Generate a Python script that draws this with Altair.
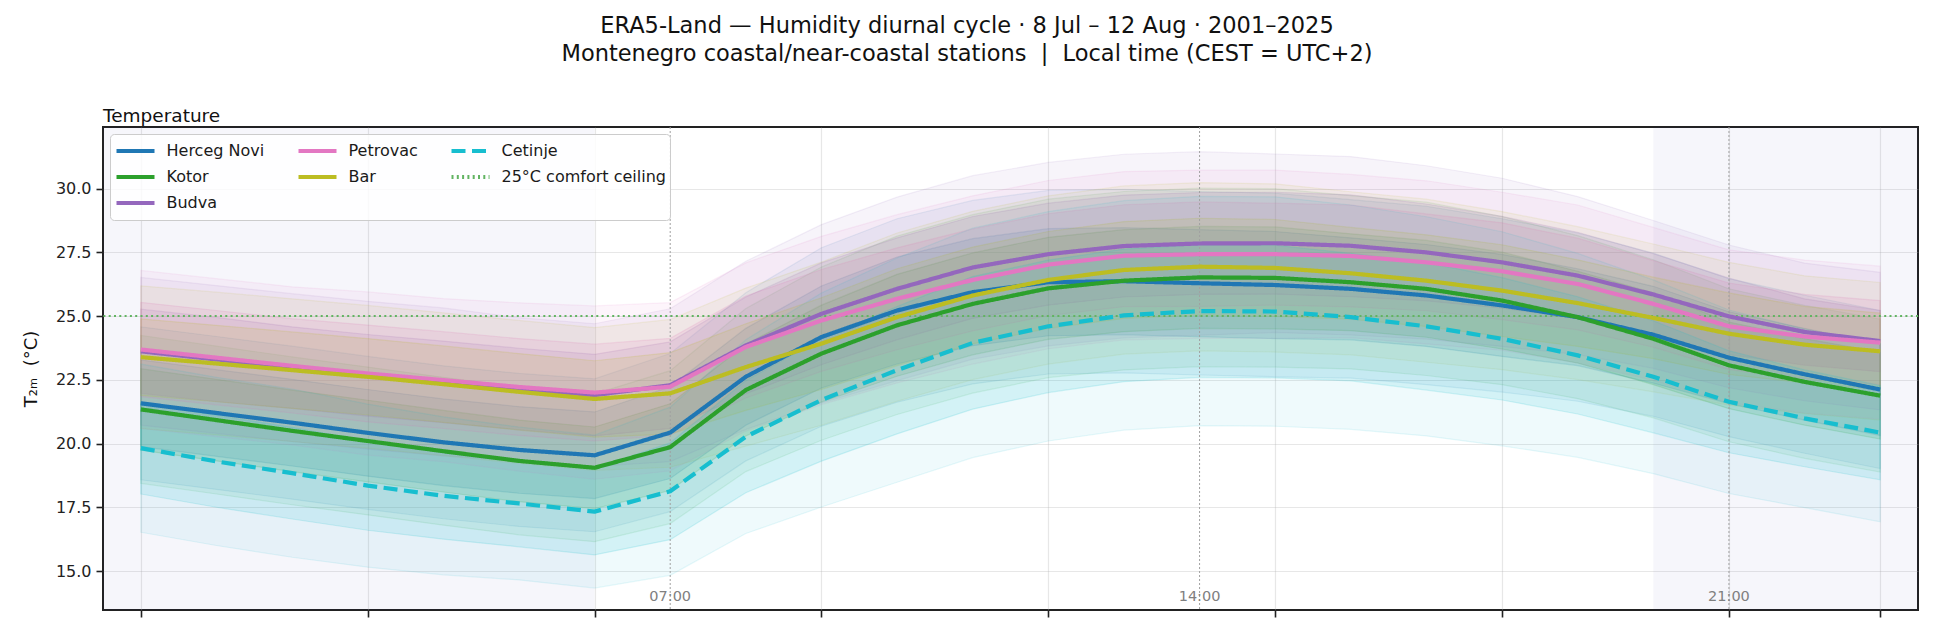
import altair as alt
import pandas as pd

HOURS = list(range(24))
STATIONS = ["Herceg Novi", "Kotor", "Budva", "Petrovac", "Bar", "Cetinje"]
COMFORT = "25°C comfort ceiling"

COLORS = {
    "Herceg Novi": "#1f77b4",
    "Kotor": "#2ca02c",
    "Budva": "#9467bd",
    "Petrovac": "#e377c2",
    "Bar": "#bcbd22",
    "Cetinje": "#17becf",
    COMFORT: "#62b462",
}
DASHES = {
    "Herceg Novi": [1, 0],
    "Kotor": [1, 0],
    "Budva": [1, 0],
    "Petrovac": [1, 0],
    "Bar": [1, 0],
    "Cetinje": [14, 6.5],
    COMFORT: [2, 3.3],
}

# mean 2 m temperature by local hour (°C)
MEAN = {
    "Herceg Novi": [21.58, 21.20, 20.82, 20.42, 20.05, 19.75, 19.54, 20.43, 22.62, 24.18, 25.22, 25.94,
                    26.33, 26.37, 26.29, 26.22, 26.07, 25.81, 25.42, 24.96, 24.27, 23.37, 22.72, 22.12],
    "Kotor":       [21.34, 20.92, 20.50, 20.10, 19.70, 19.32, 19.05, 19.86, 22.10, 23.53, 24.64, 25.48,
                    26.09, 26.39, 26.52, 26.50, 26.33, 26.07, 25.61, 24.96, 24.11, 23.07, 22.42, 21.88],
    "Budva":       [23.62, 23.30, 22.98, 22.68, 22.42, 22.14, 21.90, 22.29, 23.85, 25.09, 26.07, 26.91,
                    27.43, 27.75, 27.85, 27.86, 27.76, 27.50, 27.11, 26.59, 25.85, 24.99, 24.38, 24.02],
    "Petrovac":    [23.69, 23.37, 23.05, 22.75, 22.49, 22.22, 22.00, 22.23, 23.79, 24.83, 25.68, 26.42,
                    27.02, 27.37, 27.43, 27.43, 27.36, 27.11, 26.76, 26.26, 25.48, 24.60, 24.20, 23.96],
    "Bar":         [23.39, 23.14, 22.88, 22.62, 22.33, 22.03, 21.75, 21.97, 23.00, 23.92, 24.96, 25.81,
                    26.42, 26.81, 26.94, 26.89, 26.68, 26.39, 26.00, 25.51, 24.93, 24.31, 23.88, 23.62],
    "Cetinje":     [19.82, 19.30, 18.84, 18.35, 17.95, 17.65, 17.33, 18.13, 20.27, 21.71, 22.88, 23.95,
                    24.60, 25.03, 25.20, 25.18, 24.96, 24.60, 24.11, 23.46, 22.62, 21.64, 20.99, 20.43],
}
# half-width of the outer (p10-p90) band
OUTER = {
    "Herceg Novi": [3.0, 3.0, 3.0, 3.0, 3.0, 3.0, 3.0, 3.1, 3.3, 3.5, 3.6, 3.6, 3.6, 3.6, 3.6, 3.6, 3.5, 3.5, 3.4, 3.3, 3.2, 3.1, 3.1, 3.1],
    "Kotor":       [2.9, 2.9, 2.9, 2.9, 2.9, 2.9, 2.9, 3.0, 3.2, 3.4, 3.5, 3.5, 3.5, 3.5, 3.5, 3.5, 3.4, 3.4, 3.3, 3.2, 3.1, 3.0, 3.0, 3.0],
    "Budva":       [2.9, 2.9, 2.9, 2.9, 2.9, 2.8, 2.8, 3.0, 3.3, 3.5, 3.6, 3.6, 3.6, 3.6, 3.6, 3.5, 3.5, 3.4, 3.3, 3.1, 2.9, 2.8, 2.7, 2.7],
    "Petrovac":    [3.1, 3.1, 3.1, 3.2, 3.2, 3.3, 3.4, 3.3, 3.3, 3.3, 3.3, 3.3, 3.3, 3.3, 3.3, 3.3, 3.2, 3.2, 3.1, 3.1, 3.0, 3.0, 3.0, 3.0],
    "Bar":         [2.8, 2.8, 2.8, 2.8, 2.8, 2.8, 2.8, 2.9, 3.1, 3.2, 3.3, 3.3, 3.3, 3.3, 3.3, 3.3, 3.2, 3.2, 3.1, 3.0, 2.9, 2.8, 2.7, 2.7],
    "Cetinje":     [3.3, 3.3, 3.3, 3.2, 3.1, 3.0, 3.0, 3.3, 3.8, 4.2, 4.4, 4.5, 4.5, 4.5, 4.5, 4.5, 4.4, 4.3, 4.2, 4.0, 3.8, 3.6, 3.5, 3.5],
}
# half-width of the inner (p25-p75) band
INNER = {
    "Herceg Novi": [1.7, 1.7, 1.7, 1.7, 1.7, 1.7, 1.7, 1.8, 1.9, 2.0, 2.1, 2.1, 2.1, 2.1, 2.1, 2.1, 2.0, 2.0, 2.0, 1.9, 1.9, 1.8, 1.8, 1.8],
    "Kotor":       [1.6, 1.6, 1.6, 1.6, 1.6, 1.6, 1.6, 1.7, 1.8, 1.9, 2.0, 2.0, 2.0, 2.0, 2.0, 2.0, 1.9, 1.9, 1.9, 1.8, 1.8, 1.7, 1.7, 1.7],
    "Budva":       [1.65, 1.65, 1.6, 1.6, 1.6, 1.6, 1.6, 1.7, 1.9, 2.0, 2.0, 2.0, 2.0, 2.0, 2.0, 2.0, 2.0, 1.9, 1.8, 1.7, 1.6, 1.5, 1.3, 1.2],
    "Petrovac":    [1.85, 1.85, 1.85, 1.9, 1.9, 1.9, 1.9, 1.9, 2.0, 2.0, 2.0, 2.0, 2.0, 2.0, 2.05, 2.0, 2.0, 1.9, 1.9, 1.8, 1.7, 1.7, 1.65, 1.65],
    "Bar":         [1.5, 1.5, 1.5, 1.5, 1.5, 1.5, 1.5, 1.6, 1.7, 1.8, 1.9, 1.9, 1.9, 1.9, 1.9, 1.9, 1.8, 1.8, 1.8, 1.7, 1.6, 1.6, 1.5, 1.5],
    "Cetinje":     [1.8, 1.8, 1.8, 1.75, 1.7, 1.7, 1.7, 1.9, 2.2, 2.4, 2.5, 2.6, 2.6, 2.6, 2.6, 2.6, 2.5, 2.5, 2.4, 2.3, 2.2, 2.0, 1.9, 1.85],
}

COMFORT_T = [25.0]
NIGHT_START = [-0.5, 20.0]
NIGHT_END = [6.0, 23.5]
MARK_HOURS = [7, 14, 21]
MARK_LABELS = ["07:00", "14:00", "21:00"]
X_TICKS = [0, 3, 6, 9, 12, 15, 18, 21, 23]
Y_TICKS = [15.0, 17.5, 20.0, 22.5, 25.0, 27.5, 30.0]
X_DOMAIN = [-0.5, 23.5]
Y_DOMAIN = [13.47, 32.42]

NB = "\u00a0"
TITLE_LINES = ("ERA5-Land — Humidity diurnal cycle · 8 Jul – 12 Aug · 2001–2025\n"
               "Montenegro coastal/near-coastal stations" + NB + NB + "|" + NB + NB
               + "Local time (CEST = UTC+2)")
PANEL_TITLE = "Temperature"
Y_TITLE = "T₂ₘ" + NB + NB + "(°C)"

# Vega flows multi-column legends vertically; this order yields the columns
# (Herceg Novi, Kotor, Budva) (Petrovac, Bar) (Cetinje, comfort ceiling)
LEGEND_ORDER = ["Herceg Novi", "Kotor", COMFORT, "Petrovac", "Bar", "Budva", "Cetinje"]

W, H = 1815, 483
FONT = "DejaVu Sans"

xs = alt.Scale(domain=X_DOMAIN, nice=False, zero=False)
ys = alt.Scale(domain=Y_DOMAIN, nice=False, zero=False)
x_axis = alt.Axis(values=X_TICKS, labels=False, title=None, tickSize=7, tickWidth=1.6,
                  tickColor="#222222", domain=False, grid=True)
y_axis = alt.Axis(values=Y_TICKS, format=".1f", title=Y_TITLE, tickSize=7, tickWidth=1.6,
                  tickColor="#222222", domain=False, grid=True, labelFontSize=16,
                  labelColor="#222222", labelPadding=5, titleFontSize=18, titleFontWeight="normal",
                  titleColor="#111111", titleX=-72, titleY=H / 2, titleAngle=270,
                  titleAlign="center", titleBaseline="middle")


def X(field):
    return alt.X(field, type="quantitative", scale=xs, axis=x_axis)


def Y(field):
    return alt.Y(field, type="quantitative", scale=ys, axis=y_axis)


color_scale = alt.Scale(domain=LEGEND_ORDER, range=[COLORS[k] for k in LEGEND_ORDER])
dash_scale = alt.Scale(domain=LEGEND_ORDER, range=[DASHES[k] for k in LEGEND_ORDER])
legend = alt.Legend(
    title=None, orient="top-left", columns=3, values=LEGEND_ORDER,
    symbolType="stroke", symbolSize=1444, symbolStrokeWidth=4.2,
    clipHeight=26, rowPadding=0, columnPadding=31, labelOffset=9.5,
    labelFontSize=16, labelLimit=400, labelFont=FONT, labelColor="#1a1a1a",
    padding=4, offset=7,
    fillColor="rgba(255,255,255,0.82)", strokeColor="#cccccc", cornerRadius=4,
)

tables = {}
for s in STATIONS:
    tables[s] = pd.DataFrame({
        "series": [s] * len(HOURS),
        "hour": HOURS,
        "t": MEAN[s],
        "p10": [m - o for m, o in zip(MEAN[s], OUTER[s])],
        "p90": [m + o for m, o in zip(MEAN[s], OUTER[s])],
        "p25": [m - i for m, i in zip(MEAN[s], INNER[s])],
        "p75": [m + i for m, i in zip(MEAN[s], INNER[s])],
    })

layers = []

night = pd.DataFrame({"start": NIGHT_START, "end": NIGHT_END})
layers.append(
    alt.Chart(night).mark_rect(color="#2c2c9a", opacity=0.045).encode(
        x=X("start"), x2="end")
)

for s in STATIONS:
    layers.append(
        alt.Chart(tables[s]).mark_area(color=COLORS[s], fillOpacity=0.07, stroke=COLORS[s],
                                       strokeOpacity=0.1, strokeWidth=1.2).encode(
            x=X("hour"), y=Y("p10"), y2="p90")
    )
    layers.append(
        alt.Chart(tables[s]).mark_area(color=COLORS[s], fillOpacity=0.13, stroke=COLORS[s],
                                       strokeOpacity=0.16, strokeWidth=1.2).encode(
            x=X("hour"), y=Y("p25"), y2="p75")
    )

marks = pd.DataFrame({"hour": MARK_HOURS, "label": MARK_LABELS})
layers.append(
    alt.Chart(marks).mark_rule(color="#a0a0a0", strokeDash=[2, 2], strokeWidth=1).encode(
        x=X("hour"))
)

comfort = pd.DataFrame({"series": [COMFORT], "value": COMFORT_T})
layers.append(
    alt.Chart(comfort).mark_rule(strokeWidth=2).encode(
        y=Y("value"),
        color=alt.Color("series:N", scale=color_scale, legend=legend),
        strokeDash=alt.StrokeDash("series:N", scale=dash_scale, legend=legend),
    )
)

for s in STATIONS:
    layers.append(
        alt.Chart(tables[s]).mark_line(strokeWidth=4.2, strokeJoin="round").encode(
            x=X("hour"), y=Y("t"),
            color=alt.Color("series:N", scale=color_scale, legend=legend),
            strokeDash=alt.StrokeDash("series:N", scale=dash_scale, legend=legend),
        )
    )

layers.append(
    alt.Chart(marks).mark_text(fontSize=14.5, color="#808080", baseline="alphabetic",
                               align="center", font=FONT).encode(
        x=X("hour"), y=alt.value(474), text="label:N")
)

layers.append(
    alt.Chart(pd.DataFrame({"t": [PANEL_TITLE]})).mark_text(
        fontSize=18.5, color="#111111", align="left", baseline="alphabetic", font=FONT).encode(
        x=alt.value(0), y=alt.value(-5), text="t:N")
)
layers.append(
    alt.Chart(pd.DataFrame({"t": [TITLE_LINES]})).mark_text(
        fontSize=22.5, color="#111111", align="center", baseline="alphabetic", font=FONT,
        lineBreak="\n", lineHeight=27.5).encode(
        x=alt.value(864), y=alt.value(-94), text="t:N")
)

chart = alt.layer(*layers).properties(
    width=W, height=H,
    padding={"left": 95, "top": 119, "right": 8, "bottom": 14},
    autosize=alt.AutoSizeParams(type="none"),
).configure(font=FONT).configure_view(
    stroke="#222222", strokeWidth=2
).configure_axis(
    gridColor="#b0b0b0", gridOpacity=0.3, gridWidth=1.2
)

chart.save("out.html", embed_options={"renderer": "svg", "actions": False})
